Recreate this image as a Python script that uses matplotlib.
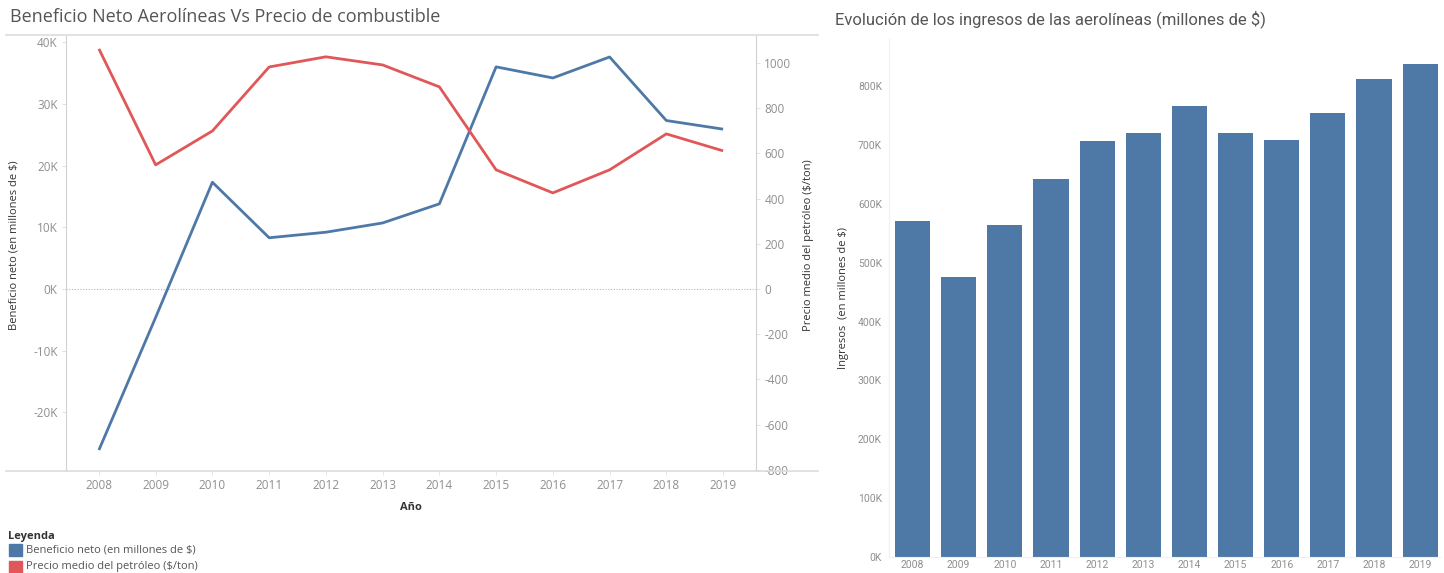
import numpy as np
import matplotlib
matplotlib.use("Agg")
import matplotlib.pyplot as plt
from matplotlib.lines import Line2D
from matplotlib.patches import Rectangle

years = [2008, 2009, 2010, 2011, 2012, 2013, 2014, 2015, 2016, 2017, 2018, 2019]
# beneficio neto, miles de millones -> K en el eje
beneficio = [-26.1, -4.6, 17.3, 8.3, 9.2, 10.7, 13.8, 36.0, 34.2, 37.6, 27.3, 25.9]
# precio medio del petróleo ($/ton)
petroleo = [1062, 549, 699, 982, 1027, 991, 894, 527, 425, 527, 686, 611]
# ingresos (miles de millones)
ingresos = [570, 476, 564, 642, 706, 720, 767, 721, 709, 754, 812, 838]

left_ticks = [-20, -10, 0, 10, 20, 30, 40]
right_ticks = [-800, -600, -400, -200, 0, 200, 400, 600, 800, 1000]
bar_ticks = [0, 100, 200, 300, 400, 500, 600, 700, 800]

BLUE = "#4e79a7"
RED = "#e15759"
TICK = "#8f8f8f"
TITLE = "#555555"
plt.rcParams['font.family'] = ['Open Sans', 'DejaVu Sans']
NARROW = ['Roboto', 'DejaVu Sans']

W, H = 1444, 573
fig = plt.figure(figsize=(W / 100, H / 100), dpi=100)

# ---- line chart with two axes ----
ax = fig.add_axes([66 / W, 1 - 471 / H, 690 / W, 435 / H])
ax2 = ax.twinx()

ax.plot(years, beneficio, color=BLUE, lw=2.0, solid_capstyle='butt', zorder=3)
ax2.plot(years, petroleo, color=RED, lw=2.0, solid_capstyle='butt', zorder=3)

ax.set_xlim(2007.42, 2019.58)
ax.set_ylim(-29.5, 41.0)
ax2.set_ylim(-805, 1119)
ax.axhline(0, color="#b8b8b8", lw=0.8, ls=(0, (1, 1.5)), zorder=1)

ax.set_xticks(years)
ax.set_xticklabels([str(y) for y in years])
ax.set_yticks(left_ticks)
ax.set_yticklabels([f"{t}K" for t in left_ticks])
ax2.set_yticks(right_ticks)
ax2.set_yticklabels([str(t) for t in right_ticks])

for a in (ax, ax2):
    for s in a.spines.values():
        s.set_visible(False)
    a.tick_params(colors=TICK, labelsize=8.5, length=3, width=0.6)
    a.tick_params(axis='y', length=3, color="#dddddd", pad=3)
ax.tick_params(axis='x', length=3, color="#e0e0e0", pad=3)
ax.spines['left'].set_visible(True)
ax.spines['left'].set_color("#d0d0d0")
ax2.spines['right'].set_visible(True)
ax2.spines['right'].set_color("#d0d0d0")

ax.set_ylabel("Beneficio neto (en millones de $)", fontsize=8, color="#333333")
ax.yaxis.set_label_coords(-0.067, 0.52)
ax2.set_ylabel("Precio medio del petróleo ($/ton)", fontsize=8, color="#333333")
ax2.yaxis.set_label_coords(1.068, 0.52)
ax.set_xlabel("Año", fontsize=8, color="#333333", fontweight='bold', labelpad=7)

fig.add_artist(Line2D([6 / W, 818 / W], [1 - 35 / H, 1 - 35 / H], color="#dcdcdc", lw=1.2))
fig.add_artist(Line2D([6 / W, 818 / W], [1 - 471 / H, 1 - 471 / H], color="#dcdcdc", lw=1.2))

fig.text(10 / W, 1 - 17 / H, "Beneficio Neto Aerolíneas Vs Precio de combustible",
         fontsize=13, color=TITLE, va='center', ha='left')

# legend
fig.text(8 / W, 1 - 536 / H, "Leyenda", fontsize=8, fontweight='bold', color="#333333", va='center')
fig.add_artist(Rectangle((9 / W, 1 - 556 / H), 13 / W, 12 / H, color=BLUE, transform=fig.transFigure))
fig.add_artist(Rectangle((9 / W, 1 - 573 / H), 13 / W, 12 / H, color=RED, transform=fig.transFigure))
fig.text(26 / W, 1 - 550 / H, "Beneficio neto (en millones de $)", fontsize=8, color="#555555", va='center')
fig.text(26 / W, 1 - 567 / H, "Precio medio del petróleo ($/ton)", fontsize=8, color="#555555", va='center')

# ---- bar chart ----
bx = fig.add_axes([889 / W, 1 - 557 / H, 551 / W, 518 / H])
x = np.arange(len(years))
bx.bar(x, ingresos, width=0.76, color=BLUE)
bx.set_xlim(-0.51, 11.43)
bx.set_ylim(0, 880)
bx.set_xticks(x)
bx.set_xticklabels([str(y) for y in years], family=NARROW)
bx.set_yticks(bar_ticks)
bx.set_yticklabels([f"{t}K" for t in bar_ticks], family=NARROW)
for s in bx.spines.values():
    s.set_visible(False)
bx.spines['left'].set_visible(True)
bx.spines['left'].set_color("#f0f0f0")
bx.spines['bottom'].set_visible(True)
bx.spines['bottom'].set_color("#f0f0f0")
bx.tick_params(colors=TICK, labelsize=7.5, length=0)
bx.tick_params(axis='x', pad=2)
bx.tick_params(axis='y', pad=5)
bx.set_ylabel("Ingresos  (en millones de $)", fontsize=8, color="#333333")
bx.yaxis.set_label_coords(-0.072, 0.5)

fig.text(835 / W, 1 - 19 / H, "Evolución de los ingresos de las aerolíneas (millones de $)",
         fontsize=12, color=TITLE, va='center', ha='left', family=NARROW)

fig.savefig("out.png", dpi=100)
